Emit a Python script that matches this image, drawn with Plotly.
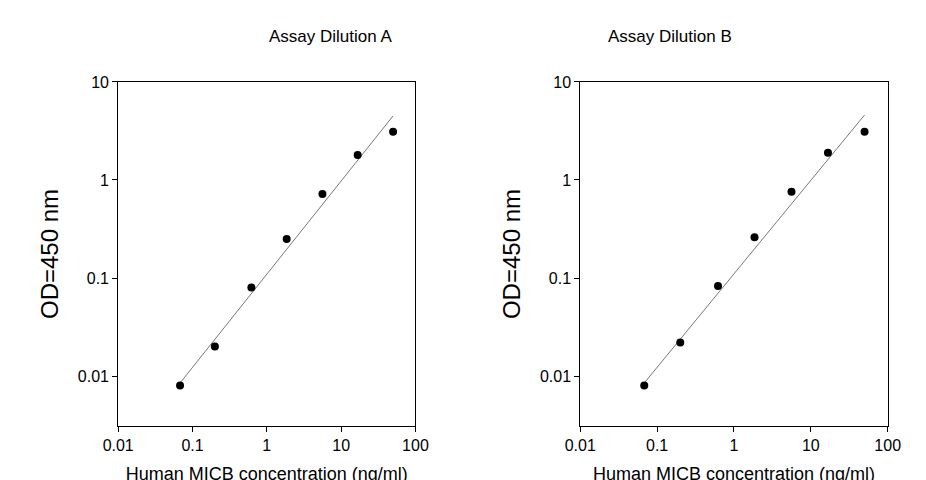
import plotly.graph_objects as go
from plotly.subplots import make_subplots

conc = [0.068, 0.2, 0.62, 1.85, 5.6, 16.7, 50]
od_a = [0.008, 0.02, 0.08, 0.25, 0.72, 1.8, 3.1]
od_b = [0.008, 0.022, 0.083, 0.26, 0.76, 1.9, 3.1]
fit_x = [0.068, 50]
fit_a = [0.0085, 4.5]
fit_b = [0.0085, 4.6]
titles = ["Assay Dilution A", "Assay Dilution B"]

fig = make_subplots(rows=1, cols=2)
for col, od, fit in [(1, od_a, fit_a), (2, od_b, fit_b)]:
    fig.add_trace(go.Scatter(x=fit_x, y=fit, mode="lines",
                             line=dict(color="#555555", width=0.8)), row=1, col=col)
    fig.add_trace(go.Scatter(x=conc, y=od, mode="markers",
                             marker=dict(color="black", size=8)), row=1, col=col)

font = "Liberation Sans, Arial, sans-serif"
ax_common = dict(type="log", showgrid=False, zeroline=False, showline=True, automargin=False,
                 linecolor="black", linewidth=1, mirror=True, ticks="outside",
                 ticklen=5, tickcolor="black", tickfont=dict(size=16, family=font, color="black"))
for i, dom in enumerate([[0.119, 0.44], [0.618, 0.95]]):
    xa = "xaxis" if i == 0 else "xaxis2"
    ya = "yaxis" if i == 0 else "yaxis2"
    fig.update_layout({
        xa: dict(ax_common, domain=dom, range=[-2, 2],
                 tickvals=[0.01, 0.1, 1, 10, 100], ticktext=["0.01", "0.1", "1", "10", "100"],
                 title=dict(text="Human MICB concentration (ng/ml)", font=dict(size=18, family=font, color="black"), standoff=14)),
        ya: dict(ax_common, domain=[0.129, 0.846], range=[-2.51, 1],
                 tickvals=[0.01, 0.1, 1, 10], ticktext=["0.01", "0.1", "1", "10"],
                 title=dict(text="OD=450 nm", font=dict(size=24, family=font, color="black"), standoff=12)),
    })
    fig.add_annotation(text=titles[i], xref="paper", yref="paper",
                       x=(dom[0] + dom[1]) / 2, y=1 - 17 / 480, showarrow=False,
                       font=dict(size=17, family=font, color="black"))

fig.update_layout(width=926, height=480, showlegend=False,
                  margin=dict(l=0, r=0, t=0, b=0, autoexpand=False),
                  plot_bgcolor="white", paper_bgcolor="white")
fig.write_html("out.html")
